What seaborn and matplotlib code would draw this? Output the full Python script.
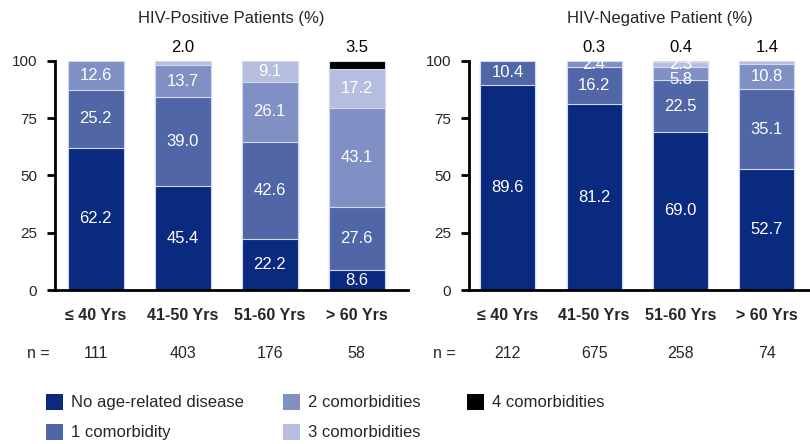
import matplotlib
matplotlib.use("Agg")
import matplotlib.pyplot as plt
from matplotlib.patches import Rectangle
import seaborn as sns
import numpy as np

sns.set_style("white")
plt.rcParams['font.family'] = ['Liberation Sans', 'DejaVu Sans']

categories = ['≤ 40 Yrs', '41-50 Yrs', '51-60 Yrs', '> 60 Yrs']
levels = ['No age-related disease', '1 comorbidity', '2 comorbidities',
          '3 comorbidities', '4 comorbidities']
colors = ['#0a2a80', '#5066a6', '#8090c4', '#b5bedf', '#000000']

pos_none = [62.2, 45.4, 22.2, 8.6]
pos_one = [25.2, 39.0, 42.6, 27.6]
pos_two = [12.6, 13.7, 26.1, 43.1]
pos_three = [0.0, 2.0, 9.1, 17.2]
pos_four = [0.0, 0.0, 0.0, 3.5]

neg_none = [89.6, 81.2, 69.0, 52.7]
neg_one = [10.4, 16.2, 22.5, 35.1]
neg_two = [0.0, 2.4, 5.8, 10.8]
neg_three = [0.0, 0.3, 2.3, 1.4]
neg_four = [0.0, 0.0, 0.4, 0.0]

n_pos = [111, 403, 176, 58]
n_neg = [212, 675, 258, 74]

titles = ['HIV-Positive Patients (%)', 'HIV-Negative Patient (%)']

W, H = 810, 444
fig = plt.figure(figsize=(W / 100, H / 100), dpi=100)

def fx(px):
    return px / W

def fy(py):
    return 1 - py / H

ax1 = fig.add_axes([fx(55), fy(290), fx(408 - 55), (290 - 61) / H])
ax2 = fig.add_axes([fx(469), fy(290), fx(810 - 469), (290 - 61) / H])


def draw_panel(ax, series, ns, xlim, nx):
    series = [np.array(s, dtype=float) for s in series]
    cum = np.cumsum(np.vstack(series), axis=0)
    # draw from top layer down so lower layers overlay
    for k in range(len(series) - 1, -1, -1):
        sns.barplot(x=categories, y=cum[k], order=categories, color=colors[k],
                    width=0.64, edgecolor='#d3d9ee', linewidth=0.8,
                    saturation=1, ax=ax)
    nlev = len(series)
    for i in range(len(categories)):
        vals = [series[k][i] for k in range(nlev)]
        top = max(k for k in range(nlev) if vals[k] > 0)
        inside = []
        for k in range(nlev):
            v = vals[k]
            if v <= 0:
                continue
            bottom = cum[k][i] - v
            if k == top and v < 5:
                ax.text(i, 106, f'{v:.1f}', ha='center', va='center',
                        fontsize=12, color='black', clip_on=False)
            else:
                inside.append([bottom + v / 2, v])
        # keep small neighbouring labels from overlapping
        for j in range(len(inside) - 2, -1, -1):
            if inside[j + 1][0] - inside[j][0] < 6.5:
                inside[j][0] = inside[j + 1][0] - 6.5
        for yc, v in inside:
            ax.text(i, yc, f'{v:.1f}', ha='center', va='center',
                    fontsize=12, color='white')
    ax.set_xlim(*xlim)
    ax.set_ylim(0, 100)
    ax.set_yticks([0, 25, 50, 75, 100])
    ax.set_yticklabels(['0', '25', '50', '75', '100'], fontsize=11)
    ax.set_xticks(range(len(categories)))
    ax.set_xticklabels(categories, fontsize=11.5, fontweight='bold')
    ax.set_xticks([xlim[0], 0.5, 1.5, 2.5, 3.5], minor=True)
    ax.tick_params(axis='x', which='major', length=0, pad=13)
    ax.tick_params(axis='x', which='minor', length=6, width=2,
                   color='black', direction='out')
    ax.tick_params(axis='y', length=6, width=2, color='black',
                   direction='out', pad=7, left=True)
    ax.set_xlabel('')
    ax.set_ylabel('')
    for s in ['top', 'right']:
        ax.spines[s].set_visible(False)
    for s in ['left', 'bottom']:
        ax.spines[s].set_visible(True)
        ax.spines[s].set_color('black')
        ax.spines[s].set_linewidth(2)
    ax.spines['left'].set_bounds(0, 100)
    ax.grid(False)
    tr = ax.get_xaxis_transform()
    ny = (290 - 353) / 229
    ax.text(nx, ny, 'n =', transform=tr, ha='center', va='center',
            fontsize=11.5, clip_on=False)
    for i, n in enumerate(ns):
        ax.text(i, ny, str(n), transform=tr, ha='center', va='center',
                fontsize=11.5, clip_on=False)


draw_panel(ax1, [pos_none, pos_one, pos_two, pos_three, pos_four], n_pos,
           (-0.47, 3.59), -0.66)
draw_panel(ax2, [neg_none, neg_one, neg_two, neg_three, neg_four], n_neg,
           (-0.45, 3.47), -0.74)

fig.text(fx(231), fy(18), titles[0], ha='center', va='center', fontsize=12)
fig.text(fx(660), fy(18), titles[1], ha='center', va='center', fontsize=12)

# legend
leg_pos = [(46, 394), (46, 424), (283, 394), (283, 424), (467, 394)]
for k, (lx, ly) in enumerate(leg_pos):
    fig.add_artist(Rectangle((fx(lx), fy(ly + 16)), 17 / W, 16 / H,
                             transform=fig.transFigure, facecolor=colors[k],
                             edgecolor='none'))
    fig.text(fx(lx + 25), fy(ly + 8), levels[k], ha='left', va='center',
             fontsize=12)

fig.savefig('out.png', dpi=100)
